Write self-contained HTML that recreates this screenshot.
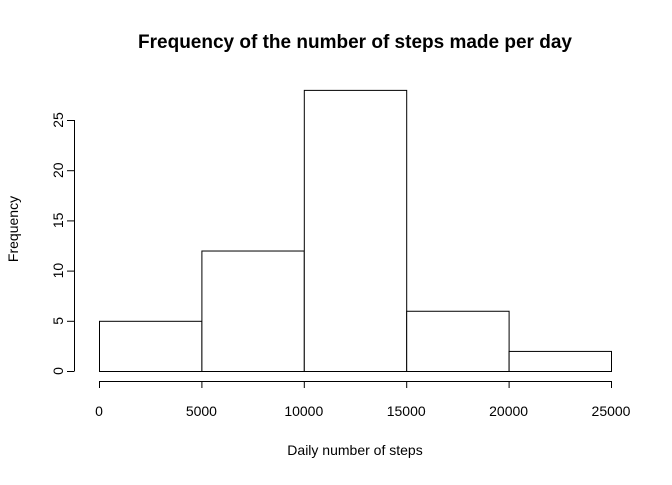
<!DOCTYPE html>
<html><head><meta charset="utf-8"><style>
body{margin:0;background:#fff}
svg text{font-family:"Liberation Sans",sans-serif;fill:#000}
</style></head><body>
<svg id="chart" width="672" height="480" xmlns="http://www.w3.org/2000/svg">
<text x="355" y="48" text-anchor="middle" font-size="19" font-weight="bold">Frequency of the number of steps made per day</text>
<text x="355" y="455" text-anchor="middle" font-size="14">Daily number of steps</text>
<text x="0" y="0" transform="translate(18,229) rotate(-90)" text-anchor="middle" font-size="14">Frequency</text>
<g id="bars"></g><g id="xaxis"></g><g id="yaxis"></g>
</svg>
<script>
const binEdges=[0,5000,10000,15000,20000,25000];
const counts=[5,12,28,6,2];
const xTicks=[0,5000,10000,15000,20000,25000];
const yTicks=[0,5,10,15,20,25];
const NS="http://www.w3.org/2000/svg";
function xs(v){return 99+(v-0)*(611-99)/25000;}
function ys(v){return 371-v*(371-120)/25;}
function mk(t,a,p){const e=document.createElementNS(NS,t);for(const k in a)e.setAttribute(k,a[k]);p.appendChild(e);return e;}
const bars=document.getElementById('bars');
counts.forEach((c,i)=>{
 const r=mk('rect',{x:xs(binEdges[i])+.5,y:ys(c)+.5,width:xs(binEdges[i+1])-xs(binEdges[i]),height:ys(0)-ys(c),fill:'#fff',stroke:'#000','stroke-width':1},bars);
 
 
});
const xa=document.getElementById('xaxis');
mk('line',{x1:xs(xTicks[0]),x2:xs(xTicks[xTicks.length-1]),y1:381.5,y2:381.5,stroke:'#000'},xa);
xTicks.forEach(v=>{
 mk('line',{x1:xs(v)+.5,x2:xs(v)+.5,y1:381,y2:388,stroke:'#000'},xa);
 const t=mk('text',{x:xs(v),y:416,'text-anchor':'middle','font-size':14},xa);t.textContent=v;
 
 
});
const ya=document.getElementById('yaxis');
mk('line',{x1:74.5,x2:74.5,y1:ys(yTicks[0]),y2:ys(yTicks[yTicks.length-1]),stroke:'#000'},ya);
yTicks.forEach(v=>{
 mk('line',{x1:67,x2:74.5,y1:ys(v)+.5,y2:ys(v)+.5,stroke:'#000'},ya);
 const t=mk('text',{x:0,y:0,transform:`translate(63,${ys(v)}) rotate(-90)`,'text-anchor':'middle','font-size':14},ya);t.textContent=v;
 
 
});
</script>
</body></html>
